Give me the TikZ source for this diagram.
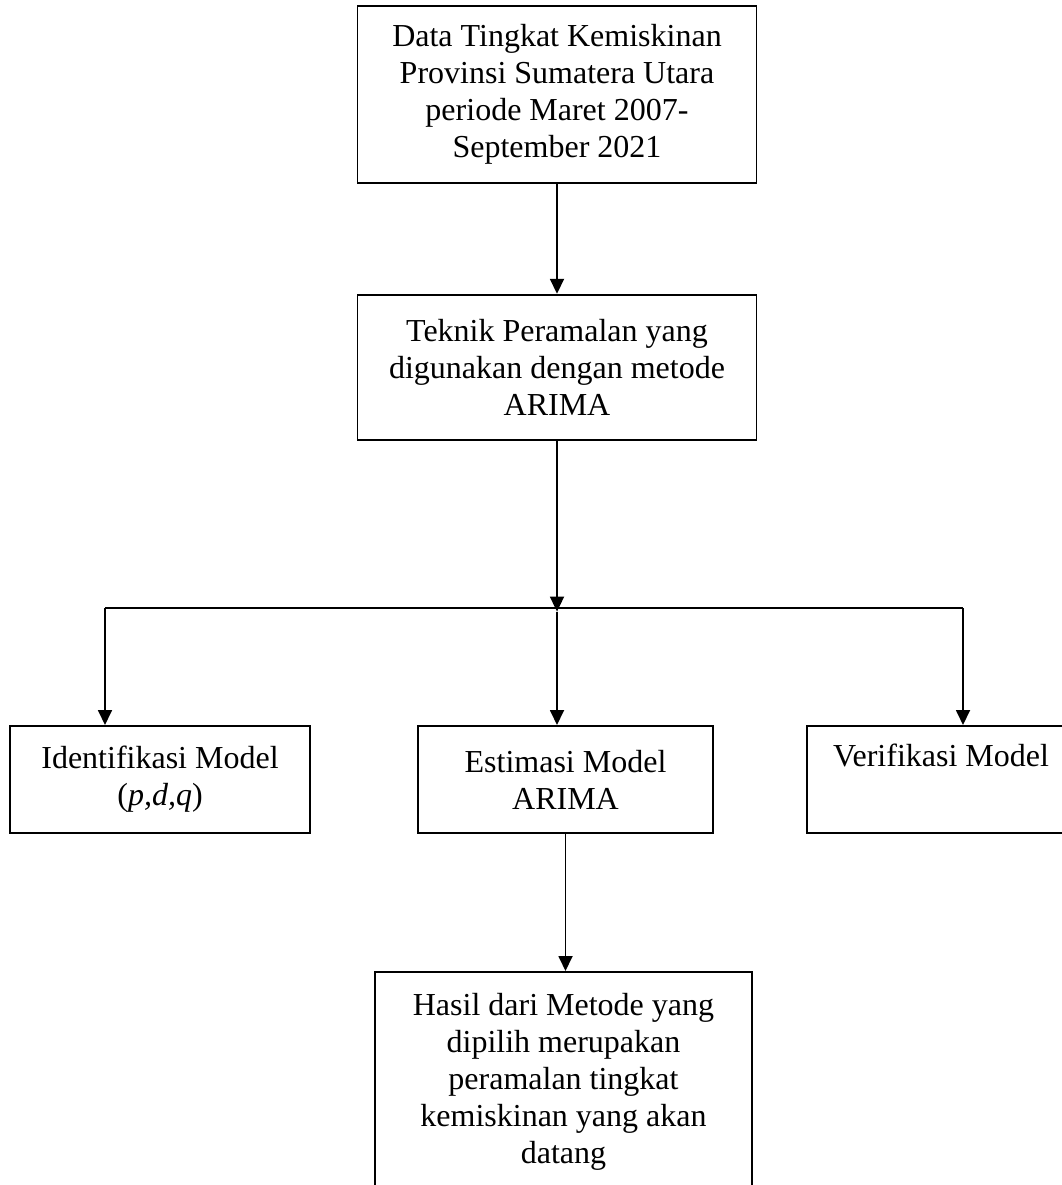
\documentclass[tikz,border=0pt]{standalone}
\usepackage{fontspec}
\setmainfont{Liberation Serif}
\usetikzlibrary{arrows.meta,positioning}

\begin{document}
\begin{tikzpicture}[
  x=1pt,y=1pt,
  >=Latex,
  node distance=110pt,
  stage/.style={draw,line width=1.8pt,inner sep=0pt,align=center,
    font=\fontsize{32}{37}\selectfont},
  flow/.style={-{Triangle[length=15pt,width=14pt]},line width=1.8pt}
]
  \useasboundingbox (0,0) rectangle (1061,-1185);

  \node[stage,minimum width=399pt,minimum height=177pt,anchor=north] (data) at (557,-5)
    {Data Tingkat Kemiskinan\\Provinsi Sumatera Utara\\periode Maret 2007-\\September 2021};
  \node[stage,minimum width=399pt,minimum height=145pt,below=of data] (teknik)
    {Teknik Peramalan yang\\digunakan dengan metode\\ARIMA};
  \coordinate[below=171pt of teknik] (split);
  \coordinate (left) at (105,-608);
  \coordinate (right) at (963,-608);

  \node[stage,minimum width=300pt,minimum height=107pt,anchor=north] (ident) at (160,-725)
    {Identifikasi Model\\(\textit{p,d,q})};
  \node[stage,minimum width=295pt,minimum height=107pt,anchor=north] (estim) at (565.5,-725)
    {Estimasi Model\\ARIMA};
  \node[stage,minimum width=268pt,minimum height=107pt,anchor=north] (verif) at (941,-725)
    {Verifikasi Model\\\strut};
  \node[stage,minimum width=377pt,minimum height=220pt,anchor=north] (hasil) at (563.5,-971)
    {Hasil dari Metode yang\\dipilih merupakan\\peramalan tingkat\\kemiskinan yang akan\\datang};

  \draw[flow] (data) -- (teknik);
  \draw[flow] (teknik) -- (split);
  \draw[line width=1.8pt] (left) -- (right);
  \draw[flow] (left) -- (left |- ident.north);
  \draw[flow] (split) -- (split |- estim.north);
  \draw[flow] (right) -- (right |- verif.north);
  \draw[flow] (estim) -- (estim |- hasil.north);
\end{tikzpicture}
\end{document}
